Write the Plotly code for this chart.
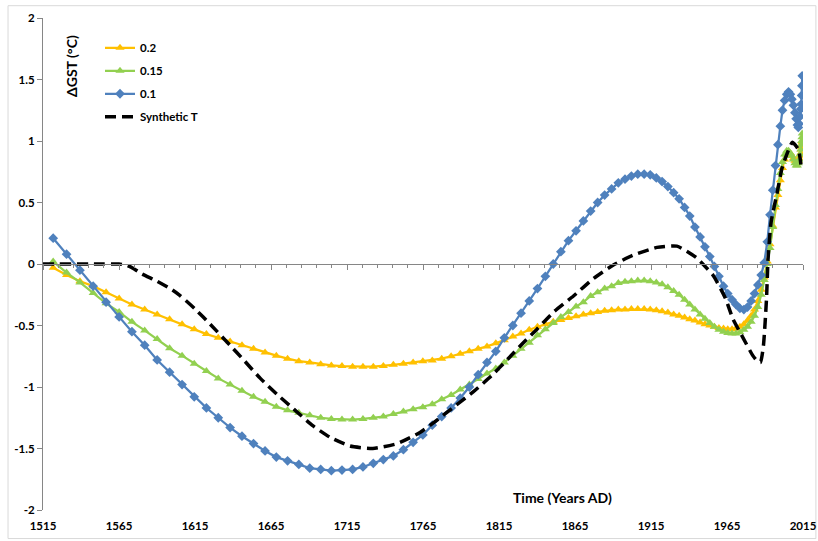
import plotly.graph_objects as go

# ---- data ----
years = [
    1521.7, 1530.5, 1539.3, 1548.0, 1556.5, 1565.1, 1573.5, 1581.9, 1590.1, 1598.3, 1606.5, 1614.5, 1622.5, 1630.3, 1638.1,
    1645.9, 1653.5, 1661.1, 1668.5, 1675.9, 1683.3, 1690.5, 1697.7, 1704.7, 1711.7, 1718.7, 1725.5, 1732.3, 1738.9, 1745.5, 1752.1, 1758.5, 1764.9,
    1771.1, 1777.3, 1783.5, 1789.5, 1795.5, 1801.3, 1807.1, 1812.9, 1818.5, 1824.1, 1829.5, 1834.9, 1840.3, 1845.5, 1850.7, 1855.7, 1860.7, 1865.7, 1870.5, 1875.3, 1879.9, 1884.5, 1889.1, 1893.5,
    1897.9, 1902.1, 1906.3, 1910.5, 1914.5, 1918.5, 1922.3, 1926.1, 1929.9, 1933.5, 1937.1, 1940.5, 1943.9, 1947.3, 1950.5, 1953.7, 1956.7, 1959.7, 1962.7, 1965.5,
    1968.3, 1970.9, 1973.5, 1976.1, 1978.5, 1980.9, 1983.1, 1985.3, 1987.5, 1989.5, 1991.5, 1993.3, 1995.1, 1996.9, 1998.5, 2000.1, 2001.5, 2002.9, 2004.3, 2005.5,
    2006.7, 2007.7, 2008.7, 2009.7, 2010.5, 2011.3, 2011.9, 2012.5, 2013.1, 2013.5, 2013.9, 2014.1, 2014.3, 2014.5,
]

s_02 = [
    -0.03, -0.09, -0.14, -0.18, -0.23, -0.28, -0.33, -0.37, -0.41, -0.45, -0.49, -0.53, -0.57, -0.60, -0.63,
    -0.66, -0.69, -0.72, -0.745, -0.77, -0.79, -0.80, -0.815, -0.825, -0.83, -0.835, -0.835, -0.835, -0.83, -0.82, -0.81, -0.80, -0.79,
    -0.785, -0.77, -0.75, -0.73, -0.71, -0.69, -0.67, -0.645, -0.62, -0.59, -0.565, -0.535, -0.51, -0.49, -0.47, -0.455, -0.44, -0.425, -0.41, -0.40, -0.39, -0.38, -0.375, -0.37,
    -0.37, -0.365, -0.365, -0.365, -0.37, -0.375, -0.385, -0.395, -0.41, -0.42, -0.435, -0.45, -0.46, -0.475, -0.49, -0.50, -0.51, -0.52, -0.525, -0.53,
    -0.53, -0.525, -0.51, -0.49, -0.46, -0.42, -0.37, -0.30, -0.21, -0.11, 0.02, 0.16, 0.31, 0.46, 0.56, 0.68, 0.78, 0.85, 0.89, 0.91,
    0.90, 0.88, 0.86, 0.84, 0.83, 0.83, 0.84, 0.86, 0.88, 0.90, 0.93, 0.95, 0.97, 0.99,
]

s_015 = [
    0.02, -0.07, -0.15, -0.235, -0.32, -0.39, -0.47, -0.54, -0.61, -0.685, -0.745, -0.81, -0.87, -0.93, -0.98,
    -1.03, -1.08, -1.12, -1.16, -1.19, -1.21, -1.23, -1.25, -1.26, -1.265, -1.265, -1.26, -1.25, -1.24, -1.22, -1.20, -1.18, -1.165,
    -1.14, -1.10, -1.065, -1.02, -0.98, -0.935, -0.89, -0.85, -0.80, -0.745, -0.69, -0.64, -0.58, -0.53, -0.48, -0.43, -0.39, -0.345, -0.31, -0.26, -0.23, -0.20, -0.18, -0.155,
    -0.145, -0.14, -0.135, -0.135, -0.14, -0.15, -0.165, -0.19, -0.22, -0.25, -0.29, -0.33, -0.37, -0.41, -0.445, -0.48, -0.51, -0.535, -0.55, -0.56,
    -0.565, -0.565, -0.555, -0.535, -0.51, -0.47, -0.42, -0.35, -0.25, -0.13, 0.0, 0.13, 0.30, 0.48, 0.61, 0.74, 0.83, 0.89, 0.92, 0.92,
    0.90, 0.88, 0.85, 0.82, 0.80, 0.80, 0.82, 0.85, 0.89, 0.93, 0.97, 1.00, 1.03, 1.06,
]

s_01 = [
    0.21, 0.08, -0.05, -0.18, -0.31, -0.43, -0.55, -0.66, -0.78, -0.88, -0.98, -1.08, -1.17, -1.25, -1.33,
    -1.40, -1.46, -1.52, -1.57, -1.60, -1.63, -1.66, -1.67, -1.68, -1.675, -1.67, -1.65, -1.62, -1.59, -1.56, -1.51, -1.45, -1.39,
    -1.31, -1.24, -1.17, -1.09, -1.00, -0.90, -0.80, -0.71, -0.60, -0.50, -0.40, -0.30, -0.20, -0.10, 0.0, 0.10, 0.19, 0.27, 0.35, 0.43, 0.50, 0.56, 0.61, 0.66,
    0.69, 0.715, 0.73, 0.73, 0.725, 0.70, 0.67, 0.63, 0.58, 0.53, 0.46, 0.39, 0.30, 0.22, 0.14, 0.06, -0.02, -0.10, -0.18, -0.24,
    -0.29, -0.33, -0.36, -0.37, -0.35, -0.30, -0.24, -0.17, -0.09, 0.01, 0.18, 0.40, 0.60, 0.80, 0.97, 1.12, 1.25, 1.33, 1.38, 1.40,
    1.38, 1.34, 1.29, 1.23, 1.18, 1.13, 1.11, 1.14, 1.20, 1.26, 1.30, 1.37, 1.45, 1.53,
]

syn_years = [1515, 1525, 1535, 1545, 1555, 1565, 1570, 1575, 1580, 1590, 1600, 1605, 1615, 1625, 1638, 1647,
             1658, 1669, 1680, 1692, 1704, 1717, 1732, 1748, 1763, 1772, 1785, 1798, 1810, 1821, 1831, 1840,
             1851, 1864, 1877, 1890, 1903, 1919, 1932, 1945, 1956, 1964, 1969, 1976, 1982, 1985, 1987, 1989,
             1991, 1992, 1994, 1998, 2001, 2004, 2008, 2012, 2014]
syn_t = [0, 0, 0, 0, 0, 0, -0.01, -0.04, -0.08, -0.14, -0.21, -0.255, -0.365, -0.49, -0.66, -0.78,
         -0.93, -1.06, -1.18, -1.31, -1.41, -1.48, -1.50, -1.46, -1.37, -1.29, -1.165, -1.04, -0.91, -0.77, -0.64, -0.53,
         -0.39, -0.26, -0.12, -0.01, 0.07, 0.135, 0.145, 0.05, -0.095, -0.28, -0.45, -0.61, -0.745, -0.79, -0.80, -0.66,
         -0.28, 0.04, 0.34, 0.58, 0.77, 0.88, 0.99, 0.93, 0.77]

x_ticks = [1515, 1565, 1615, 1665, 1715, 1765, 1815, 1865, 1915, 1965, 2015]
x_ticktext = ["<b>%d</b>" % v for v in x_ticks]
y_ticks = [2, 1.5, 1, 0.5, 0, -0.5, -1, -1.5, -2]
y_ticktext = ["<b>2</b>", "<b>1.5</b>", "<b>1</b>", "<b>0.5</b>", "<b>0</b>", "<b>-0.5</b>",
              "<b>-1</b>", "<b>-1.5</b>", "<b>-2</b>"]

assert len(years) == len(s_02) == len(s_015) == len(s_01)
assert len(syn_years) == len(syn_t)

FONT = "Lato"
AX = "#868686"
tickf = dict(family=FONT, size=11.5, color="black")

fig = go.Figure()
fig.add_trace(go.Scatter(x=years, y=s_02, name="<b>0.2</b>", mode="lines+markers", legendgroup="a",
                         line=dict(color="#FFC000", width=2.25),
                         marker=dict(symbol="triangle-up", size=8, color="#FFC000")))
fig.add_trace(go.Scatter(x=years, y=s_015, name="<b>0.15</b>", mode="lines+markers", legendgroup="b",
                         line=dict(color="#92D050", width=2.25),
                         marker=dict(symbol="triangle-up", size=8, color="#92D050")))
fig.add_trace(go.Scatter(x=years, y=s_01, name="<b>0.1</b>", mode="lines+markers", legendgroup="c",
                         line=dict(color="#4F81BD", width=2.25),
                         marker=dict(symbol="diamond", size=7.5, color="#4F81BD")))
fig.add_trace(go.Scatter(x=syn_years, y=syn_t, name="<b>Synthetic T</b>", mode="lines", legendgroup="d",
                         xaxis="x2",
                         line=dict(color="black", width=3.5, dash="11px,6px", shape="spline", smoothing=0.5)))

fig.update_layout(
    template="none",
    width=818, height=541,
    margin=dict(l=43, r=15, t=18, b=31, pad=0),
    paper_bgcolor="white", plot_bgcolor="white",
    font=dict(family=FONT, color="black"),
    showlegend=True,
    legend=dict(x=0.075, y=0.969, xanchor="left", yanchor="top", bgcolor="rgba(0,0,0,0)",
                font=dict(family=FONT, size=11.5, color="black"), tracegroupgap=4, itemwidth=30,
                borderwidth=0),
    xaxis=dict(range=[1515, 2015], tickvals=x_ticks, ticktext=x_ticktext, ticks="outside", ticklen=5,
               tickcolor="rgba(0,0,0,0)", showline=False, showgrid=False, zeroline=False,
               tickfont=tickf, automargin=False),
    xaxis2=dict(range=[1515, 2015], overlaying="x", anchor="free", position=0.5,
                showline=True, linecolor=AX, linewidth=1, tickvals=x_ticks, ticks="outside",
                ticklen=5, tickcolor=AX, tickwidth=1, showticklabels=False, showgrid=False, zeroline=False,
                automargin=False,
                minor=dict(dtick=10, tick0=1515, ticks="outside", ticklen=3, tickcolor=AX, tickwidth=1,
                           showgrid=False)),
    yaxis=dict(range=[-2, 2], tickvals=y_ticks, ticktext=y_ticktext, showline=True, linecolor=AX,
               linewidth=1, ticks="outside", ticklen=5, tickcolor=AX, tickwidth=1, showgrid=False,
               zeroline=False, tickfont=tickf, automargin=False),
    shapes=[dict(type="rect", xref="paper", yref="paper", x0=-0.046, x1=1.017, y0=-0.058, y1=1.025,
                 line=dict(color="#D9D9D9", width=1), fillcolor="rgba(0,0,0,0)", layer="below")],
    annotations=[
        dict(text="<b>ΔGST (°C)</b>", xref="paper", yref="paper", x=(72 - 43) / 760, y=(510 - 66) / 492,
             xanchor="center", yanchor="middle",
             textangle=-90, showarrow=False, font=dict(family=FONT, size=14, color="black")),
        dict(text="<b>Time (Years AD)</b>", xref="paper", yref="paper", x=(562 - 43) / 760, y=(510 - 497) / 492,
             xanchor="center", yanchor="middle",
             showarrow=False, font=dict(family=FONT, size=14, color="black")),
    ],
)

fig.write_html("out.html", config={"displayModeBar": False},
               post_script="document.body.style.margin='0';document.body.style.overflow='hidden';")
